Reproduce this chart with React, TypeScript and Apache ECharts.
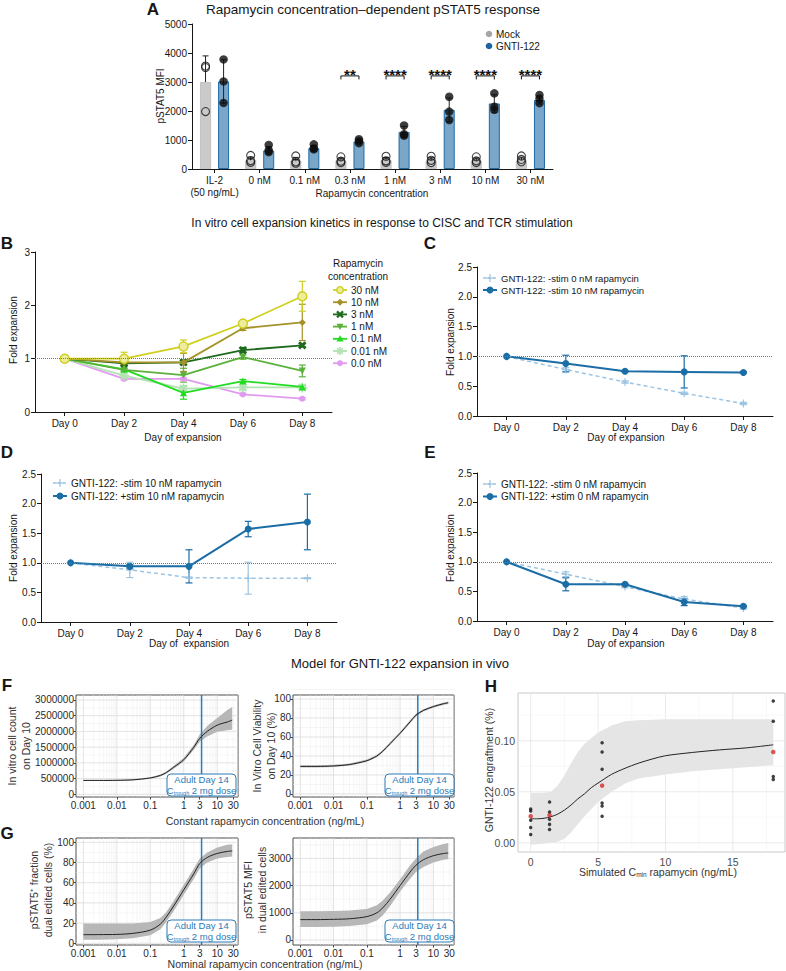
import React, { useEffect, useRef } from "react";
import * as echarts from "echarts";

/* ================= Panel A : pSTAT5 MFI ================= */
const aCategories = ["IL-2\n(50 ng/mL)", "0 nM", "0.1 nM", "0.3 nM", "1 nM", "3 nM", "10 nM", "30 nM"];
const aMockMean = [3000, 300, 290, 290, 300, 290, 280, 300];
const aMockSD = [900, 110, 110, 90, 100, 100, 100, 110];
const aGntiMean = [3020, 640, 720, 950, 1280, 2040, 2260, 2380];
const aGntiSD = [750, 130, 90, 70, 190, 410, 300, 140];
const aMockPoints = [
  [3550, 3500, 1980],
  [470, 290, 230],
  [450, 250, 200],
  [420, 270, 220],
  [440, 280, 230],
  [440, 300, 220],
  [420, 280, 220],
  [450, 330, 250],
];
const aGntiPoints = [
  [3780, 3020, 2280],
  [830, 650, 580],
  [850, 710, 680],
  [1030, 960, 890],
  [1500, 1200, 1150],
  [2490, 1980, 1690],
  [2610, 2150, 2040],
  [2550, 2420, 2270],
];
const aSignificance = ["", "", "", "**", "****", "****", "****", "****"];
const aBracketLevel = 3210;

/* ================= Panels B–E : fold expansion ================= */
const days = ["Day 0", "Day 2", "Day 4", "Day 6", "Day 8"];
const bConcLabels = ["30 nM", "10 nM", "3 nM", "1 nM", "0.1 nM", "0.01 nM", "0.0 nM"];
const b30nM = [1.0, 1.0, 1.23, 1.66, 2.17];
const b30nMsd = [0, 0.12, 0.12, 0.03, 0.28];
const b10nM = [1.0, 0.93, 0.93, 1.57, 1.68];
const b10nMsd = [0, 0.04, 0.17, 0.04, 0.34];
const b3nM = [1.0, 0.91, 0.93, 1.16, 1.25];
const b3nMsd = [0, 0.03, 0.04, 0.05, 0.03];
const b1nM = [1.0, 0.79, 0.69, 1.03, 0.77];
const b1nMsd = [0, 0.03, 0.13, 0.04, 0.11];
const b01nM = [1.0, 0.8, 0.36, 0.58, 0.47];
const b01nMsd = [0, 0.02, 0.12, 0.03, 0.03];
const b001nM = [1.0, 0.68, 0.44, 0.46, 0.46];
const b001nMsd = [0, 0.03, 0.04, 0.04, 0.03];
const b0nM = [1.0, 0.62, 0.62, 0.33, 0.25];
const b0nMsd = [0, 0.02, 0.02, 0.02, 0.02];

const cMinusStim0 = [1.0, 0.78, 0.57, 0.38, 0.21];
const cMinusStim0sd = [0, 0.03, 0.02, 0.02, 0.02];
const cMinusStim10 = [1.0, 0.88, 0.75, 0.74, 0.73];
const cMinusStim10sd = [0, 0.14, 0.01, 0.27, 0.01];
const dMinusStim10 = [1.0, 0.88, 0.75, 0.74, 0.74];
const dMinusStim10sd = [0, 0.13, 0.01, 0.27, 0.01];
const dPlusStim10 = [1.0, 0.94, 0.94, 1.57, 1.69];
const dPlusStim10sd = [0, 0.03, 0.28, 0.13, 0.47];
const eMinusStim0 = [1.0, 0.79, 0.58, 0.37, 0.22];
const eMinusStim0sd = [0, 0.04, 0.02, 0.04, 0.02];
const ePlusStim0 = [1.0, 0.62, 0.62, 0.32, 0.25];
const ePlusStim0sd = [0, 0.11, 0.01, 0.06, 0.01];

/* ================= Panels F–G : model curves ================= */
const modelConc = [0.001, 0.003, 0.01, 0.03, 0.1, 0.2, 0.3, 0.5, 1, 2, 3, 5, 10, 20, 28];
const fCountMean = [440000, 440000, 445000, 460000, 520000, 600000, 690000, 860000, 1100000, 1500000, 1780000, 2000000, 2200000, 2300000, 2360000];
const fCountLo = [420000, 420000, 425000, 440000, 495000, 570000, 655000, 815000, 1040000, 1420000, 1670000, 1840000, 1990000, 2040000, 2050000];
const fCountHi = [460000, 460000, 465000, 480000, 545000, 630000, 725000, 905000, 1160000, 1580000, 1900000, 2170000, 2430000, 2680000, 2780000];
const fViabMean = [29, 29, 29.5, 31, 35, 40, 45, 53, 64, 76, 83, 88, 92, 95, 96];
const fViabLo = [27.8, 27.8, 28.3, 29.8, 33.8, 38.7, 43.6, 51.5, 62.5, 74.5, 81.6, 86.7, 90.8, 93.8, 94.7];
const fViabHi = [30.2, 30.2, 30.7, 32.2, 36.2, 41.3, 46.4, 54.5, 65.5, 77.5, 84.4, 89.3, 93.2, 96.2, 97.3];
const gFracMean = [8.5, 8.6, 8.8, 9.8, 13, 19, 26, 37, 53, 69, 79, 85, 89, 91, 91.5];
const gFracLo = [3.5, 3.5, 4, 5, 8, 14, 21, 32, 48, 64, 74, 80, 84, 85.5, 86];
const gFracHi = [19.5, 19.5, 19.5, 19.5, 21, 25, 31, 42, 58, 74, 84, 90, 95, 97.5, 98];
const gMfiMean = [750, 750, 760, 780, 860, 1000, 1180, 1500, 2000, 2500, 2750, 2950, 3100, 3180, 3200];
const gMfiLo = [480, 480, 490, 510, 580, 720, 900, 1250, 1780, 2250, 2500, 2680, 2850, 2950, 2970];
const gMfiHi = [1060, 1060, 1070, 1080, 1140, 1280, 1450, 1750, 2230, 2750, 3000, 3250, 3420, 3530, 3570];
const cTroughAdult = 3.4;
const logTickConc = [0.001, 0.01, 0.1, 1, 3, 10, 30];
const fCountTicks = [0, 500000, 1000000, 1500000, 2000000, 2500000, 3000000];
const pctTicks = [0, 20, 40, 60, 80, 100];
const mfiTicks = [0, 1000, 2000, 3000];

/* ================= Panel H : engraftment ================= */
const hDoseGroups = [0, 1.4, 5.3, 18];
const hPoints = [
  [0.033, 0.031, 0.022, 0.015, 0.008],
  [0.040, 0.030, 0.023, 0.018, 0.013],
  [0.098, 0.089, 0.072, 0.039, 0.036, 0.026],
  [0.139, 0.119, 0.065, 0.062],
];
const hGroupMeans = [0.026, 0.027, 0.056, 0.089];
const hCurveX = [0, 0.5, 1, 1.5, 2, 2.5, 3, 3.5, 4, 4.5, 5, 6, 7, 8, 9, 10, 12, 14, 16, 18];
const hCurveY = [0.0235, 0.0235, 0.024, 0.0255, 0.028, 0.032, 0.037, 0.043, 0.048, 0.054, 0.0585, 0.067, 0.073, 0.078, 0.082, 0.0853, 0.0885, 0.091, 0.093, 0.096];
const hBandX = [0, 1, 1.5, 2, 2.5, 3, 3.5, 4, 5, 6, 7, 8, 10, 12, 15, 18];
const hBandLo = [-0.002, -0.001, 0.0, 0.001, 0.004, 0.01, 0.018, 0.026, 0.04, 0.05, 0.058, 0.063, 0.067, 0.07, 0.073, 0.076];
const hBandHi = [0.049, 0.049, 0.05, 0.056, 0.066, 0.078, 0.089, 0.097, 0.108, 0.115, 0.119, 0.12, 0.121, 0.121, 0.121, 0.121];
const hXTicks = [0, 5, 10, 15];
const hYTicks = [0, 0.05, 0.1];

/* ================= styling ================= */
const FONT = '"Liberation Sans", Arial, Helvetica, sans-serif';
const INK = "#161616";
const DARK_BLUE = "#1b6da6";
const LIGHT_BLUE = "#9cc4e2";
const BOX_BLUE = "#2c7bb6";
const A_OFFSET = 0.2;

const PLUS_PATH = "path://M4.3,0H5.7V4.3H10V5.7H5.7V10H4.3V5.7H0V4.3H4.3Z";
const X_PATH = "path://M3.4,0H6.6V3.4H10V6.6H6.6V10H3.4V6.6H0V3.4H3.4Z";
function makeAsteriskPath() {
  const parts: string[] = [];
  [0, 45, 90, 135].forEach((deg) => {
    const a = (deg * Math.PI) / 180;
    const c = Math.cos(a), s = Math.sin(a);
    const L = 5, W = 0.9;
    const pts = [[-L, -W], [L, -W], [L, W], [-L, W]].map(([u, v]) => [5 + u * c - v * s, 5 + u * s + v * c]);
    parts.push("M" + pts.map((p) => p[0].toFixed(2) + "," + p[1].toFixed(2)).join("L") + "Z");
  });
  return "path://" + parts.join("");
}
const ASTERISK_PATH = makeAsteriskPath();

const bStyles = [
  { color: "#cfcf1f", marker: "circleOpen", fill: "#eded9c", size: 9 },
  { color: "#a59329", marker: "diamond", size: 7 },
  { color: "#1d6a1d", marker: "x", size: 9 },
  { color: "#5bb23b", marker: "tridown", size: 7 },
  { color: "#22dc22", marker: "triangle", size: 7 },
  { color: "#b3e2b3", marker: "asterisk", size: 10 },
  { color: "#e29af0", marker: "circle", size: 6 },
];
const lightStyle = { color: LIGHT_BLUE, marker: "plus", size: 8, dash: true, width: 1.5 };
const darkStyle = { color: DARK_BLUE, marker: "circle", size: 7, width: 2 };

function symbolOf(kind: string): any {
  switch (kind) {
    case "diamond": return { symbol: "diamond" };
    case "triangle": return { symbol: "triangle" };
    case "tridown": return { symbol: "triangle", symbolRotate: 180 };
    case "plus": return { symbol: PLUS_PATH };
    case "x": return { symbol: X_PATH, symbolRotate: 45 };
    case "asterisk": return { symbol: ASTERISK_PATH };
    default: return { symbol: "circle" };
  }
}

function markerEls(kind: string, cx: number, cy: number, color: string, s: number, fill?: string): any[] {
  const h = s / 2;
  const base = { z: 101, silent: true };
  const ln = (x1: number, y1: number, x2: number, y2: number, w: number) => ({ type: "line", shape: { x1, y1, x2, y2 }, style: { stroke: color, lineWidth: w }, ...base });
  switch (kind) {
    case "circle": return [{ type: "circle", shape: { cx, cy, r: h }, style: { fill: color }, ...base }];
    case "circleOpen": return [{ type: "circle", shape: { cx, cy, r: h - 0.7 }, style: { fill: fill || "#fff", stroke: color, lineWidth: 1.4 }, ...base }];
    case "diamond": return [{ type: "polygon", shape: { points: [[cx, cy - h], [cx + h, cy], [cx, cy + h], [cx - h, cy]] }, style: { fill: color }, ...base }];
    case "triangle": return [{ type: "polygon", shape: { points: [[cx, cy - h], [cx + h, cy + h * 0.8], [cx - h, cy + h * 0.8]] }, style: { fill: color }, ...base }];
    case "tridown": return [{ type: "polygon", shape: { points: [[cx, cy + h], [cx + h, cy - h * 0.8], [cx - h, cy - h * 0.8]] }, style: { fill: color }, ...base }];
    case "plus": return [ln(cx - h, cy, cx + h, cy, 1.2), ln(cx, cy - h, cx, cy + h, 1.2)];
    case "x": return [ln(cx - h * 0.75, cy - h * 0.75, cx + h * 0.75, cy + h * 0.75, 2.2), ln(cx - h * 0.75, cy + h * 0.75, cx + h * 0.75, cy - h * 0.75, 2.2)];
    case "asterisk": {
      const d = h * 0.707;
      return [ln(cx - h, cy, cx + h, cy, 1.6), ln(cx, cy - h, cx, cy + h, 1.6), ln(cx - d, cy - d, cx + d, cy + d, 1.6), ln(cx - d, cy + d, cx + d, cy - d, 1.6)];
    }
    default: return [];
  }
}

function txt(text: string, x: number, y: number, o: any = {}) {
  const align = o.align || "center";
  const va = o.va || "middle";
  const style: any = {
    text,
    fill: o.color || INK,
    fontSize: o.size || 10,
    fontFamily: FONT,
    fontWeight: o.weight || "normal",
    align,
    verticalAlign: va,
    textAlign: align,
    textVerticalAlign: va,
  };
  if (o.lh) style.lineHeight = o.lh;
  if (o.rich) style.rich = o.rich;
  return { type: "text", x, y, rotation: o.rot || 0, z: 100, silent: true, style };
}

function legendItem(x0: number, y: number, st: any, label: string, fontSize = 10): any[] {
  const els: any[] = [];
  els.push({
    type: "line", z: 100, silent: true,
    shape: { x1: x0, y1: y, x2: x0 + 14, y2: y },
    style: { stroke: st.color, lineWidth: st.width || 1.8, lineDash: st.dash ? [3, 2] : null },
  });
  els.push(...markerEls(st.marker, x0 + 7, y, st.color, Math.min(st.size, 8), st.fill));
  els.push(txt(label, x0 + 18, y, { align: "left", size: fontSize }));
  return els;
}

function adultBox(x: number, y: number): any[] {
  return [
    { type: "rect", z: 99, silent: true, shape: { x, y, width: 69, height: 22, r: 4 }, style: { fill: "#fff", stroke: BOX_BLUE, lineWidth: 1 } },
    {
      type: "text", z: 100, silent: true, x: x + 34.5, y: y + 11,
      style: {
        text: "{a|Adult Day 14}\n{a|C}{s|trough}{a| 2 mg dose}",
        align: "center", verticalAlign: "middle", textAlign: "center", textVerticalAlign: "middle",
        fill: BOX_BLUE, fontSize: 9.5, fontFamily: FONT,
        rich: {
          a: { fill: BOX_BLUE, fontSize: 9.5, fontFamily: FONT, lineHeight: 10.5 },
          s: { fill: BOX_BLUE, fontSize: 5.5, fontFamily: FONT, lineHeight: 5, verticalAlign: "bottom" },
        },
      },
    },
  ];
}

/* ---------- axis factories ---------- */
function gpCategory(gridIndex: number, data: string[]) {
  return {
    type: "category", gridIndex, data, boundaryGap: true,
    axisLine: { show: true, onZero: false, lineStyle: { color: INK, width: 1 } },
    axisTick: { show: true, alignWithLabel: true, length: 4, lineStyle: { color: INK, width: 1 } },
    axisLabel: { interval: 0, color: INK, fontSize: 10, fontFamily: FONT, margin: 5, lineHeight: 12, hideOverlap: false },
    splitLine: { show: false },
  };
}
function gpValue(gridIndex: number, min: number, max: number, interval: number, fmt: (v: number) => string) {
  return {
    type: "value", gridIndex, min, max, interval,
    axisLine: { show: true, onZero: false, lineStyle: { color: INK, width: 1 } },
    axisTick: { show: true, length: 4, lineStyle: { color: INK, width: 1 } },
    axisLabel: { color: INK, fontSize: 10, fontFamily: FONT, margin: 5, formatter: fmt, hideOverlap: false },
    splitLine: { show: false },
  };
}
const fmtLog = (v: number) => {
  const c = Math.pow(10, v);
  return c < 1 ? String(Number(c.toPrecision(1))) : String(Math.round(c));
};
const logTickValues = logTickConc.map((c) => Math.log10(c));
function ggAxis(gridIndex: number, min: number, max: number, values: number[], fmt: any, ticks: boolean, color: string, margin: number, size: number) {
  return {
    type: "value", gridIndex, min, max,
    axisLine: { show: false, onZero: false },
    axisTick: { show: ticks, customValues: values, length: 2.5, lineStyle: { color: "#444", width: 1 } },
    axisLabel: { customValues: values, formatter: fmt, color, fontSize: size, fontFamily: FONT, margin, hideOverlap: false },
    splitLine: { show: false },
  };
}

/* ---------- series factories ---------- */
function lineSeries(xi: number, yi: number, data: number[] | number[][], st: any, extra: any = {}) {
  return {
    type: "line", xAxisIndex: xi, yAxisIndex: yi, data, ...symbolOf(st.marker), symbolSize: st.size,
    showSymbol: true, silent: true, z: st.z || 4,
    lineStyle: { color: st.color, width: st.width || 1.8, type: st.dash ? [4, 3] : "solid" },
    itemStyle: st.marker === "circleOpen" ? { color: st.fill, borderColor: st.color, borderWidth: 1.4 } : { color: st.color, borderWidth: 0 },
    ...extra,
  };
}
function errorSeries(xi: number, yi: number, data: number[][], color: string, cap: number, width = 1, upperOnly = false, z = 3) {
  return {
    type: "custom", xAxisIndex: xi, yAxisIndex: yi, silent: true, z,
    data, encode: { x: 0, y: [1, 2] },
    renderItem: (params: any, api: any) => {
      const x = api.value(0), lo = api.value(1), hi = api.value(2);
      const pLo = api.coord([x, lo]);
      const pHi = api.coord([x, hi]);
      const st = { stroke: color, lineWidth: width };
      const children: any[] = [
        { type: "line", shape: { x1: pLo[0], y1: pLo[1], x2: pHi[0], y2: pHi[1] }, style: st },
        { type: "line", shape: { x1: pHi[0] - cap / 2, y1: pHi[1], x2: pHi[0] + cap / 2, y2: pHi[1] }, style: st },
      ];
      if (!upperOnly) children.push({ type: "line", shape: { x1: pLo[0] - cap / 2, y1: pLo[1], x2: pLo[0] + cap / 2, y2: pLo[1] }, style: st });
      return { type: "group", children };
    },
  };
}
function sdBars(values: number[], sd: number[]) {
  const out: number[][] = [];
  values.forEach((v, i) => { if (sd[i] > 0) out.push([i, v - sd[i], v + sd[i]]); });
  return out;
}
function refLine(value: number) {
  return {
    silent: true, symbol: ["none", "none"], label: { show: false },
    lineStyle: { type: "dotted", color: "#777", width: 1 },
    data: [{ yAxis: value }],
  };
}
function gridLines(xi: number, yi: number, values: number[], dir: string, color: string, width: number, z = 1) {
  return {
    type: "custom", xAxisIndex: xi, yAxisIndex: yi, silent: true, z,
    data: values.map((v) => (dir === "v" ? [v, 0] : [0, v])),
    encode: { x: 0, y: 1 },
    renderItem: (params: any, api: any) => {
      const cs = params.coordSys;
      const p = api.coord([api.value(0), api.value(1)]);
      const shape = dir === "v"
        ? { x1: p[0], y1: cs.y, x2: p[0], y2: cs.y + cs.height }
        : { x1: cs.x, y1: p[1], x2: cs.x + cs.width, y2: p[1] };
      return { type: "line", shape, style: { stroke: color, lineWidth: width } };
    },
  };
}
function ribbon(xi: number, yi: number, xs: number[], lo: number[], hi: number[], color: string) {
  const data = xs.map((x, i) => [x, lo[i], hi[i]]);
  return {
    type: "custom", xAxisIndex: xi, yAxisIndex: yi, silent: true, z: 2,
    data, encode: { x: 0, y: [1, 2] },
    renderItem: (params: any, api: any) => {
      if (params.dataIndex !== 0) return null;
      const upper = data.map((d) => api.coord([d[0], d[2]]));
      const lower = data.map((d) => api.coord([d[0], d[1]])).reverse();
      return { type: "polygon", shape: { points: upper.concat(lower) }, style: { fill: color } };
    },
  };
}
function curve(xi: number, yi: number, xs: number[], ys: number[]) {
  return {
    type: "line", xAxisIndex: xi, yAxisIndex: yi, silent: true, z: 5,
    data: xs.map((x, i) => [x, ys[i]]), showSymbol: false, symbol: "none", smooth: 0.3,
    lineStyle: { color: "#222", width: 1 },
  };
}

function buildOption() {
  const G = (left: number, top: number, width: number, height: number, boxed = false, border = "#4d4d4d") => ({
    left, top, width, height, containLabel: false, outerBoundsMode: "none",
    show: boxed, borderColor: border, borderWidth: 1, backgroundColor: "transparent",
  });
  const grid = [
    G(192, 24, 361, 145),
    G(35, 252, 297, 160),
    G(477, 267, 296, 149),
    G(41, 474, 296, 148),
    G(477, 473, 296, 148),
    G(76, 695, 162, 102, true),
    G(293, 695, 161, 102, true),
    G(76, 838, 162, 107, true),
    G(293, 838, 161, 107, true),
    G(518, 693, 267, 159, true, "#c9c9c9"),
  ];
  const LOGMIN = -3.22, LOGMAX = 1.62;
  const str = (v: number) => String(v);
  const xAxis = [
    gpCategory(0, aCategories),
    { type: "value", gridIndex: 0, min: 0, max: 8, show: false, axisLine: { onZero: false } },
    gpCategory(1, days),
    gpCategory(2, days),
    gpCategory(3, days),
    gpCategory(4, days),
    ggAxis(5, LOGMIN, LOGMAX, logTickValues, fmtLog, true, "#2a2a2a", 3, 10),
    ggAxis(6, LOGMIN, LOGMAX, logTickValues, fmtLog, true, "#2a2a2a", 3, 10),
    ggAxis(7, LOGMIN, LOGMAX, logTickValues, fmtLog, true, "#2a2a2a", 3, 10),
    ggAxis(8, LOGMIN, LOGMAX, logTickValues, fmtLog, true, "#2a2a2a", 3, 10),
    ggAxis(9, -0.94, 18.87, hXTicks, str, false, "#4d4d4d", 4, 10.5),
  ];
  const fmt1 = (v: number) => v.toFixed(1);
  const yAxis = [
    gpValue(0, 0, 5000, 1000, str),
    gpValue(1, 0, 3, 1, str),
    gpValue(2, 0, 2.5, 0.5, fmt1),
    gpValue(3, 0, 2.5, 0.5, fmt1),
    gpValue(4, 0, 2.5, 0.5, fmt1),
    ggAxis(5, -86000, 3159000, fCountTicks, str, true, "#2a2a2a", 2, 10),
    ggAxis(6, -3.2, 104.2, pctTicks, str, true, "#2a2a2a", 2, 10),
    ggAxis(7, -1.7, 104.3, pctTicks, str, true, "#2a2a2a", 2, 10),
    ggAxis(8, -184, 3750, mfiTicks, str, true, "#2a2a2a", 2, 10),
    ggAxis(9, -0.0091, 0.1468, hYTicks, (v: number) => v.toFixed(2), false, "#4d4d4d", 3, 10.5),
  ];

  const series: any[] = [];

  /* ---- A ---- */
  series.push({
    type: "bar", name: "Mock", xAxisIndex: 0, yAxisIndex: 0, data: aMockMean, barWidth: 11, barGap: "64%", silent: true, z: 2,
    itemStyle: { color: "#cacaca", borderColor: "#bababa", borderWidth: 0.8 },
  });
  series.push({
    type: "bar", name: "GNTI-122", xAxisIndex: 0, yAxisIndex: 0, data: aGntiMean, barWidth: 11, barGap: "64%", silent: true, z: 2,
    itemStyle: { color: "#7aa7c9", borderColor: "#1f6aa3", borderWidth: 1 },
  });
  series.push(errorSeries(1, 0, aMockMean.map((m, i) => [i + 0.5 - A_OFFSET, m, m + aMockSD[i]]), "#222", 6, 1, true, 3));
  series.push(errorSeries(1, 0, aGntiMean.map((m, i) => [i + 0.5 + A_OFFSET, m - aGntiSD[i], m + aGntiSD[i]]), "#222", 6, 1, false, 3));
  const mockPts: number[][] = [];
  aMockPoints.forEach((arr, i) => arr.forEach((v) => mockPts.push([i + 0.5 - A_OFFSET, v])));
  const gntiPts: number[][] = [];
  aGntiPoints.forEach((arr, i) => arr.forEach((v) => gntiPts.push([i + 0.5 + A_OFFSET, v])));
  series.push({
    type: "scatter", xAxisIndex: 1, yAxisIndex: 0, data: mockPts, symbol: "circle", symbolSize: 8, silent: true, z: 4,
    itemStyle: { color: "rgba(255,255,255,0)", borderColor: "#111", borderWidth: 1.1 },
  });
  series.push({
    type: "scatter", xAxisIndex: 1, yAxisIndex: 0, data: gntiPts, symbol: "circle", symbolSize: 8.5, silent: true, z: 4,
    itemStyle: { color: "#0d0d0d" },
  });
  const sigIdx: number[] = [];
  aSignificance.forEach((s, i) => { if (s) sigIdx.push(i); });
  series.push({
    type: "custom", xAxisIndex: 1, yAxisIndex: 0, silent: true, z: 5,
    data: sigIdx.map((i) => [i + 0.5, aBracketLevel]),
    encode: { x: 0, y: 1 },
    renderItem: (params: any, api: any) => {
      const x = api.value(0), y = api.value(1);
      const l = api.coord([x - A_OFFSET, y]);
      const r = api.coord([x + A_OFFSET, y]);
      const c = api.coord([x, y]);
      const label = aSignificance[sigIdx[params.dataIndex]];
      return {
        type: "group",
        children: [
          { type: "polyline", shape: { points: [[l[0], l[1] + 3.5], [l[0], l[1]], [r[0], r[1]], [r[0], r[1] + 3.5]] }, style: { stroke: "#111", lineWidth: 1, fill: "none" } },
          { type: "text", style: { text: label, x: c[0], y: c[1] - 1.5, align: "center", verticalAlign: "middle", fill: "#111", fontSize: 15, fontWeight: "bold", fontFamily: FONT } },
        ],
      };
    },
  });

  /* ---- B ---- */
  const bValues = [b30nM, b10nM, b3nM, b1nM, b01nM, b001nM, b0nM];
  const bSDs = [b30nMsd, b10nMsd, b3nMsd, b1nMsd, b01nMsd, b001nMsd, b0nMsd];
  for (let k = bValues.length - 1; k >= 0; k--) {
    series.push(errorSeries(2, 1, sdBars(bValues[k], bSDs[k]), bStyles[k].color, 7, 1.2, false, 3));
    series.push(lineSeries(2, 1, bValues[k], { ...bStyles[k], z: 4 + (bValues.length - k) * 0.01 }, k === bValues.length - 1 ? { markLine: refLine(1) } : {}));
  }

  /* ---- C ---- */
  series.push(errorSeries(3, 2, sdBars(cMinusStim0, cMinusStim0sd), LIGHT_BLUE, 7, 1.2));
  series.push(lineSeries(3, 2, cMinusStim0, lightStyle, { markLine: refLine(1) }));
  series.push(errorSeries(3, 2, sdBars(cMinusStim10, cMinusStim10sd), DARK_BLUE, 7, 1.2));
  series.push(lineSeries(3, 2, cMinusStim10, darkStyle));
  /* ---- D ---- */
  series.push(errorSeries(4, 3, sdBars(dMinusStim10, dMinusStim10sd), LIGHT_BLUE, 7, 1.2));
  series.push(lineSeries(4, 3, dMinusStim10, lightStyle, { markLine: refLine(1) }));
  series.push(errorSeries(4, 3, sdBars(dPlusStim10, dPlusStim10sd), DARK_BLUE, 7, 1.2));
  series.push(lineSeries(4, 3, dPlusStim10, darkStyle));
  /* ---- E ---- */
  series.push(errorSeries(5, 4, sdBars(eMinusStim0, eMinusStim0sd), LIGHT_BLUE, 7, 1.2));
  series.push(lineSeries(5, 4, eMinusStim0, lightStyle, { markLine: refLine(1) }));
  series.push(errorSeries(5, 4, sdBars(ePlusStim0, ePlusStim0sd), DARK_BLUE, 7, 1.2));
  series.push(lineSeries(5, 4, ePlusStim0, darkStyle));

  /* ---- F / G ---- */
  const logMajor: number[] = [];
  const logMinor: number[] = [];
  for (let e = -3; e <= 1; e++) {
    for (let k = 1; k <= 9; k++) {
      const c = k * Math.pow(10, e);
      if (c > 41) continue;
      (k === 1 ? logMajor : logMinor).push(Math.log10(c));
    }
  }
  const midpoints = (ticks: number[]) => ticks.slice(0, -1).map((t, i) => (t + ticks[i + 1]) / 2).concat([ticks[ticks.length - 1] + (ticks[1] - ticks[0]) / 2]);
  const logX = modelConc.map((c) => Math.log10(c));
  const panels = [
    { xi: 6, yi: 5, ticks: fCountTicks, mean: fCountMean, lo: fCountLo, hi: fCountHi },
    { xi: 7, yi: 6, ticks: pctTicks, mean: fViabMean, lo: fViabLo, hi: fViabHi },
    { xi: 8, yi: 7, ticks: pctTicks, mean: gFracMean, lo: gFracLo, hi: gFracHi },
    { xi: 9, yi: 8, ticks: mfiTicks, mean: gMfiMean, lo: gMfiLo, hi: gMfiHi },
  ];
  panels.forEach((p) => {
    series.push(gridLines(p.xi, p.yi, logMinor, "v", "#ededed", 0.5));
    series.push(gridLines(p.xi, p.yi, logMajor, "v", "#dcdcdc", 0.8));
    series.push(gridLines(p.xi, p.yi, midpoints(p.ticks), "h", "#ededed", 0.5));
    series.push(gridLines(p.xi, p.yi, p.ticks, "h", "#dcdcdc", 0.8));
    series.push(ribbon(p.xi, p.yi, logX, p.lo, p.hi, "#b7b7b7"));
    series.push(gridLines(p.xi, p.yi, [Math.log10(cTroughAdult)], "v", BOX_BLUE, 1.5, 4));
    series.push(curve(p.xi, p.yi, logX, p.mean));
  });

  /* ---- H ---- */
  series.push(gridLines(10, 9, [2.5, 7.5, 12.5, 17.5], "v", "#f1f1f1", 0.5));
  series.push(gridLines(10, 9, hXTicks, "v", "#e4e4e4", 0.8));
  series.push(gridLines(10, 9, [0.025, 0.075, 0.125], "h", "#f1f1f1", 0.5));
  series.push(gridLines(10, 9, hYTicks, "h", "#e4e4e4", 0.8));
  series.push(ribbon(10, 9, hBandX, hBandLo, hBandHi, "#e5e5e5"));
  series.push(curve(10, 9, hCurveX, hCurveY));
  const hPts: number[][] = [];
  hPoints.forEach((arr, i) => arr.forEach((v) => hPts.push([hDoseGroups[i], v])));
  series.push({ type: "scatter", xAxisIndex: 10, yAxisIndex: 9, data: hPts, symbolSize: 3.5, silent: true, z: 6, itemStyle: { color: "#111" } });
  series.push({ type: "scatter", xAxisIndex: 10, yAxisIndex: 9, data: hDoseGroups.map((x, i) => [x, hGroupMeans[i]]), symbolSize: 4.5, silent: true, z: 7, itemStyle: { color: "#d42a2a" } });

  /* ---------- graphic texts ---------- */
  const g: any[] = [];
  const L = { weight: "bold", size: 17 };
  g.push(txt("A", 153, 9, L), txt("B", 7, 243, L), txt("C", 430, 243, L), txt("D", 7, 452, L), txt("E", 430, 452, L), txt("F", 7, 685, L), txt("G", 7, 833, L), txt("H", 491, 686, L));
  g.push(txt("Rapamycin concentration\u2013dependent pSTAT5 response", 373, 9, { size: 13.5 }));
  g.push(txt("In vitro cell expansion kinetics in response to CISC and TCR stimulation", 382, 223, { size: 12 }));
  g.push(txt("Model for GNTI-122 expansion in vivo", 400, 663, { size: 13 }));

  // A axis names + legend
  g.push(txt("pSTAT5 MFI", 160, 96, { rot: Math.PI / 2 }));
  g.push(txt("Rapamycin concentration", 372, 193));
  g.push({ type: "circle", z: 100, silent: true, shape: { cx: 489, cy: 34, r: 3.3 }, style: { fill: "#a6a6a6" } });
  g.push({ type: "circle", z: 100, silent: true, shape: { cx: 489, cy: 46, r: 3.3 }, style: { fill: "#1b64a0" } });
  g.push(txt("Mock", 496, 34, { align: "left" }), txt("GNTI-122", 496, 46, { align: "left" }));

  // B
  g.push(txt("Fold expansion", 13, 330, { rot: Math.PI / 2 }));
  g.push(txt("Day of expansion", 183, 437));
  g.push(txt("Rapamycin\nconcentration", 358, 269.5, { lh: 13 }));
  bConcLabels.forEach((lab, k) => g.push(...legendItem(333, 290 + k * 12.2, bStyles[k], lab)));

  // C
  g.push(txt("Fold expansion", 450, 342, { rot: Math.PI / 2 }));
  g.push(txt("Day of expansion", 626, 437));
  g.push(...legendItem(483, 278, lightStyle, "GNTI-122: -stim 0 nM rapamycin", 9.5));
  g.push(...legendItem(483, 290, darkStyle, "GNTI-122: -stim 10 nM rapamycin", 9.5));

  // D
  g.push(txt("Fold expansion", 13, 548, { rot: Math.PI / 2 }));
  g.push(txt("Day of  expansion", 189, 643));
  g.push(...legendItem(53, 483, lightStyle, "GNTI-122: -stim 10 nM rapamycin"));
  g.push(...legendItem(53, 496, darkStyle, "GNTI-122: +stim 10 nM rapamycin"));

  // E
  g.push(txt("Fold expansion", 450, 548, { rot: Math.PI / 2 }));
  g.push(txt("Day of expansion", 626, 643));
  g.push(...legendItem(483, 484, lightStyle, "GNTI-122: -stim 0 nM rapamycin"));
  g.push(...legendItem(483, 496.5, darkStyle, "GNTI-122: +stim 0 nM rapamycin"));

  // F / G
  const GG = { size: 10.5, color: "#333", lh: 13.5 };
  g.push(txt("In vitro cell count\non Day 10", 19, 746, { ...GG, rot: Math.PI / 2 }));
  g.push(txt("In Vitro Cell Viability\non Day 10 (%)", 264, 746, { ...GG, rot: Math.PI / 2 }));
  g.push(txt("Constant rapamycin concentration (ng/mL)", 265, 821, GG));
  g.push(txt("pSTAT5\u207A fraction\ndual edited cells (%)", 41, 890, { ...GG, rot: Math.PI / 2 }));
  g.push(txt("pSTAT5 MFI\nin dual edited cells", 255, 890, { ...GG, rot: Math.PI / 2 }));
  g.push(txt("Nominal rapamycin concentration (ng/mL)", 265, 964, GG));
  g.push(...adultBox(167, 774), ...adultBox(385, 774), ...adultBox(167, 920), ...adultBox(385, 920));

  // H
  g.push(txt("GNTI-122 engraftment (%)", 489, 770, { ...GG, rot: Math.PI / 2 }));
  g.push(txt("{n|Simulated C}{s|min}{n| rapamycin (ng/mL)}", 658, 872, {
    ...GG,
    rich: {
      n: { fill: "#333", fontSize: 10.5, fontFamily: FONT, lineHeight: 12 },
      s: { fill: "#333", fontSize: 6.5, fontFamily: FONT, lineHeight: 6, verticalAlign: "bottom" },
    },
  }));

  return {
    animation: false,
    backgroundColor: "#ffffff",
    textStyle: { fontFamily: FONT },
    grid, xAxis, yAxis, series,
    graphic: { elements: g },
  };
}

export default function App() {
  const ref = useRef<HTMLDivElement>(null);
  useEffect(() => {
    document.body.style.margin = "0";
    const el = ref.current;
    if (!el) return;
    const chart = echarts.init(el, null, { renderer: "svg", width: 786, height: 971 });
    chart.setOption(buildOption() as any);
    return () => {
      chart.dispose();
    };
  }, []);
  return <div ref={ref} style={{ width: 786, height: 971, background: "#fff" }} />;
}
